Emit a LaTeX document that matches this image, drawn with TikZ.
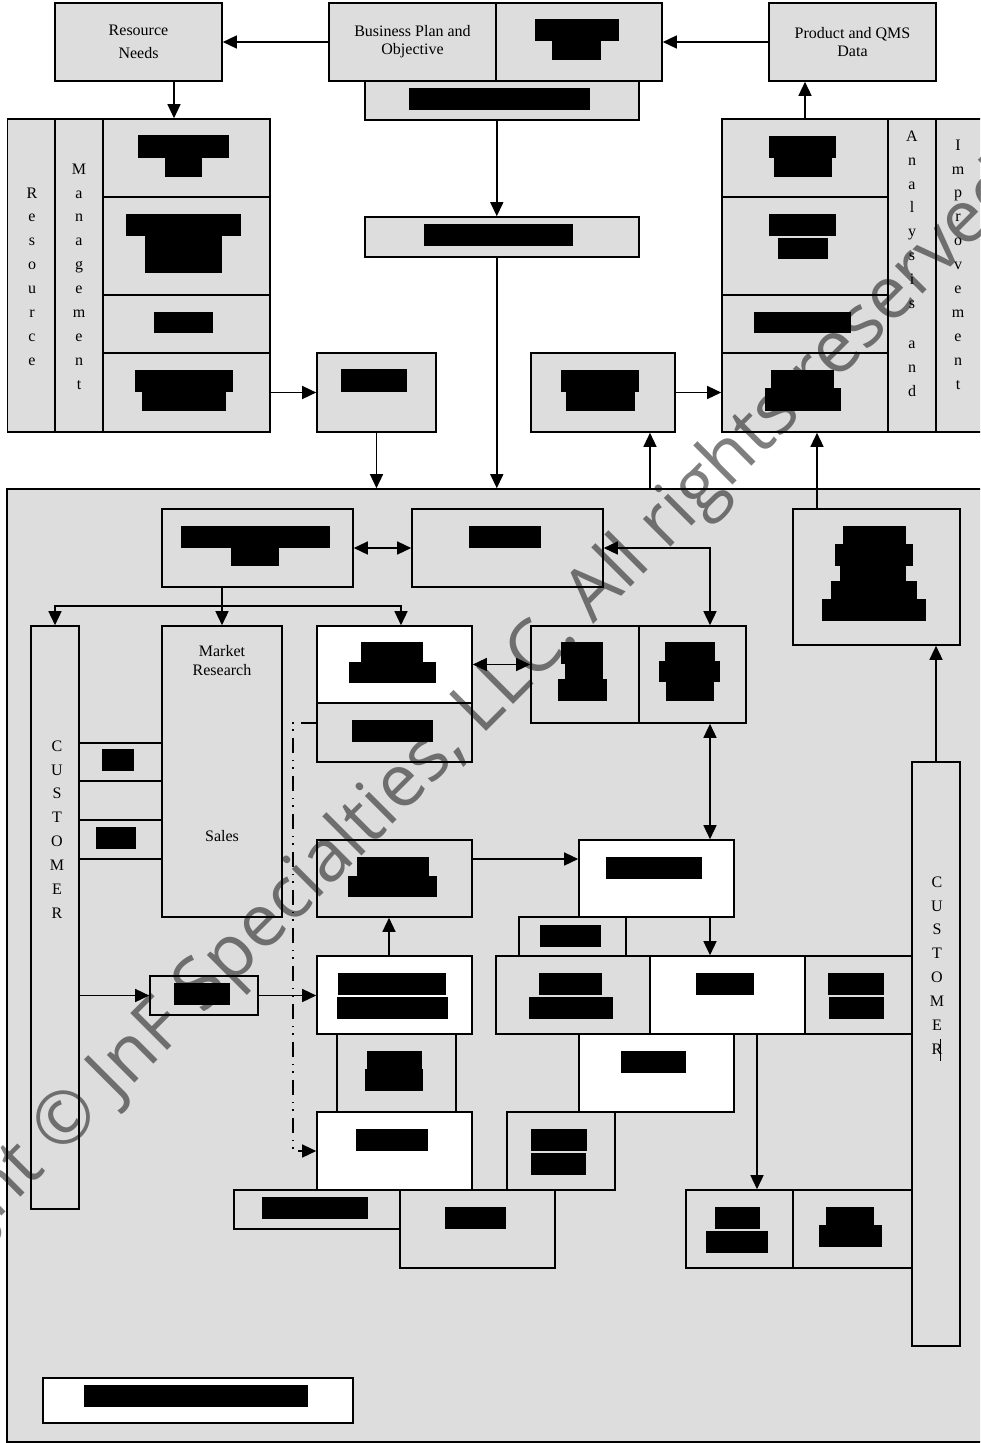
\documentclass[tikz,border=0pt]{standalone}
\usepackage{fontspec}
\setmainfont{Liberation Serif}
\newfontfamily\wmfont{Open Sans}
\usetikzlibrary{arrows.meta}
\usetikzlibrary{positioning}
\definecolor{boxgray}{RGB}{221,221,221}

\begin{document}
\begin{tikzpicture}[
    x=1pt, y=-1pt,
    blk/.style={draw, fill=boxgray, line width=1.6pt, inner sep=0pt, align=center, font=\fontsize{16}{18}\selectfont},
    wblk/.style={blk, fill=white},
    sz/.style 2 args={minimum width=#1pt, minimum height=#2pt},
    lbl/.style={align=center, inner sep=0pt, font=\fontsize{16}{19}\selectfont},
    vtext/.style={align=center, inner sep=0pt, font=\fontsize{16}{23.9}\selectfont},
    redact/.style={fill=black},
    link/.style={line width=1.4pt},
    arr/.style={link, -{Triangle[length=14pt, width=13pt]}},
    dbl/.style={link, {Triangle[length=14pt, width=13pt]}-{Triangle[length=14pt, width=13pt]}},
    dashdot/.style={link, dash pattern=on 15pt off 7pt on 1.5pt off 6pt on 1.5pt off 7pt}
]

\clip (0,0) rectangle (980,1443);

% --- Top row ---
\node[blk, sz={274}{39}] (bizstrip) at (502,100.5) {};
\node[blk, sz={167}{78}] (resneeds) at (138.5,42) {Resource\\[5pt]Needs};
\node[blk, sz={167}{78}] (bizplan) at (412.5,42) {Business Plan and\\Objective};
\node[blk, sz={166}{78}] (bizred) at (579,42) {};
\node[blk, sz={167}{78}] (qmsdata) at (852.5,42) {Product and QMS\\Data};

% --- Resource Management block ---
\node[blk, sz={47.5}{313}] (rescol) at (31.25,275.5) {};
\node[blk, sz={48}{313}] (mgmtcol) at (79,275.5) {};
\foreach \n/\y/\h in {1/158/78, 2/246/98, 3/324/58, 4/392.5/79}
    \node[blk, sz={167}{\h}] (lb\n) at (186.5,\y) {};
\node[vtext] (restxt) at (32,276.5) {R\\e\\s\\o\\u\\r\\c\\e};
\node[vtext] (mgmttxt) at (79,276.5) {M\\a\\n\\a\\g\\e\\m\\e\\n\\t};

% --- Analysis and Improvement block ---
\foreach \n/\y/\h in {1/158/78, 2/246/98, 3/324/58, 4/392.5/79}
    \node[blk, sz={166}{\h}] (rb\n) at (805,\y) {};
\node[blk, sz={48}{313}] (anacol) at (912,275.5) {};
\node[blk, sz={54}{313}] (impcol) at (963,275.5) {};
\node[vtext] (anatxt) at (912,263.5) {A\\n\\a\\l\\y\\s\\i\\s\\[16pt]a\\n\\d};
\node[vtext] (imptxt) at (958,264.5) {I\\m\\p\\r\\o\\v\\e\\m\\e\\n\\t};

% --- Middle boxes ---
\node[blk, sz={119}{79}] (lsmall) at (376.5,392.5) {};
\node[blk, sz={274}{40}] (cbox) at (502,237) {};
\node[blk, sz={144}{79}] (rsmall) at (603,392.5) {};

% --- Product realization frame ---
\node[blk, sz={985}{953}] (outer) at (499.5,965.5) {};

\node[blk, sz={191}{78}] (plan1) at (257.5,548) {};
\node[blk, sz={191}{78}] (plan2) at (507.5,548) {};
\node[blk, sz={167}{136}] (topright) at (876.5,577) {};
\node[blk, sz={48}{583}] (custL) at (55,917.5) {};
\node[blk, sz={120}{291}] (mktsales) at (222,771.5) {};
\node[blk, sz={83}{38}] (tab1) at (120.5,762) {};
\node[blk, sz={83}{39}] (tab2) at (120.5,839.5) {};
\node[wblk, sz={155}{77}] (wtop) at (394.5,664.5) {};
\node[blk, sz={155}{59}] (gtop) at (394.5,732.5) {};
\node[blk, sz={108}{97}] (pair1) at (585,674.5) {};
\node[blk, sz={107}{97}] (pair2) at (692.5,674.5) {};
\node[blk, sz={155}{77}] (gmid) at (394.5,878.5) {};
\node[wblk, sz={155}{77}] (wmid) at (656.5,878.5) {};
\node[blk, sz={107}{40}] (gsmall) at (572.5,937) {};
\node[blk, sz={108}{39}] (inbox) at (204,995.5) {};
\node[wblk, sz={155}{78}] (w1) at (394.5,995) {};
\node[blk, sz={119}{78}] (g1) at (396.5,1073) {};
\node[wblk, sz={155}{78}] (w2) at (394.5,1151) {};
\node[blk, sz={166}{39}] (gb1) at (317,1209.5) {};
\node[blk, sz={155}{78}] (gb2) at (477.5,1229) {};
\node[blk, sz={154}{78}] (rowA) at (573,995) {};
\node[wblk, sz={155}{78}] (rowB) at (727.5,995) {};
\node[blk, sz={107}{78}] (rowC) at (858.5,995) {};
\node[wblk, sz={155}{78}] (wlow) at (656.5,1073) {};
\node[blk, sz={108}{78}] (g2) at (561,1151) {};
\node[blk, sz={107}{78}] (br1) at (739.5,1229) {};
\node[blk, sz={119}{78}] (br2) at (852.5,1229) {};
\node[blk, sz={48}{584}] (custR) at (936,1054) {};
\node[wblk, sz={310}{45}] (legend) at (198,1400.5) {};

\node[lbl] (mkttxt) at (222,660.5) {Market\\Research};
\node[lbl] (salestxt) at (222,836) {Sales};
\node[vtext] (custltxt) at (57,829.5) {C\\U\\S\\T\\O\\M\\E\\R};
\node[vtext] (custrtxt) at (937,965.5) {C\\U\\S\\T\\O\\M\\E\\R};
\draw[line width=0.8pt] (940,1039) -- (940,1061);

% --- Blacked-out labels ---
\foreach \xa/\ya/\xb/\yb in {
    535/19/619/41, 552/41/601/60, 409/88/590/110,
    138/135/229/158, 165/158/202/177, 126/214/241/236, 145/236/222/273,
    154/312/213/333, 135/370/233/392, 142/392/226/411,
    341/369/407/392, 424/224/573/246, 561/370/639/392, 566/392/635/411,
    769/136/836/158, 774/158/832/177, 769/214/836/236, 778/238/828/259,
    754/312/851/333, 771/370/834/390, 765/388/841/411,
    181/526/330/548, 231/548/279/566, 469/526/541/548,
    843/526/906/544, 835/544/913/566, 840/566/906/581, 831/581/917/599, 822/599/926/621,
    561/642/603/664, 565/664/603/679, 558/679/607/701,
    665/642/715/661, 659/661/720/682, 666/682/714/701,
    102/749/134/771, 96/827/136/849,
    361/642/423/662, 349/662/436/683, 352/720/433/742,
    357/857/429/876, 348/876/437/897, 606/857/702/879, 540/925/601/947,
    174/983/230/1005, 338/973/446/995, 337/997/448/1019,
    367/1051/422/1069, 365/1069/423/1091, 356/1129/428/1151,
    262/1197/368/1219, 445/1207/506/1229,
    539/973/602/995, 529/997/613/1019, 696/973/754/995,
    828/973/884/995, 829/997/884/1019, 621/1051/686/1073,
    531/1129/587/1151, 531/1153/586/1175,
    715/1207/760/1229, 706/1231/768/1253, 826/1207/874/1225, 819/1225/882/1247,
    84/1385/308/1407}
    \fill[redact] (\xa,\ya) rectangle (\xb,\yb);

% --- Connectors, top half ---
\draw[arr] (bizplan.west) -- (resneeds.east);
\draw[arr] (qmsdata.west) -- (bizred.east);
\draw[arr] (resneeds.south -| 174,0) -- (lb1.north -| 174,0);
\draw[arr] (bizstrip.south -| bizplan.south east) -- (cbox.north -| bizplan.south east);
\draw[arr] (cbox.south -| bizplan.south east) -- (outer.north -| bizplan.south east);
\draw[arr] (lb4.east) -- (lsmall.west);
\draw[arr] (lsmall.south) -- (lsmall.south |- outer.north);
\draw[arr] (rsmall.east) -- (rb4.west);
\draw[arr] (outer.north -| 650,0) -- (rsmall.south -| 650,0);
\draw[arr] (rb1.north) -- (rb1.north |- qmsdata.south);
\draw[arr] (topright.north -| 817,0) -- (rb4.south -| 817,0);
\draw[arr] (custR.north) -- (custR.north |- topright.south);

% --- Connectors, inside the frame ---
\draw[dbl] (plan1.east) -- (plan2.west);
\coordinate (fork) at (222,606);
\draw[link] (plan1.south -| fork) -- (fork);
\draw[arr] (fork) -- (mktsales.north);
\draw[arr] (fork) -| (custL.north);
\draw[arr] (fork) -| (wtop.north -| 401,0);
\draw[dbl] (plan2.east) -| (pair2.north -| 710,0);
\draw[dbl] (wtop.east) -- (wtop.east -| pair1.west);
\draw[dbl] (pair2.south -| 710,0) -- (wmid.north -| 710,0);
\draw[arr] (gmid.east |- 0,859) -- (wmid.west |- 0,859);
\draw[arr] (w1.north -| 389,0) -- (gmid.south -| 389,0);
\draw[arr] (custL.east |- inbox.west) -- (inbox.west);
\draw[arr] (inbox.east) -- (inbox.east -| w1.west);
\draw[arr] (wmid.south -| 710,0) -- (rowB.north -| 710,0);
\draw[arr] (rowB.south -| 757,0) -- (br1.north -| 757,0);
\draw[dashdot, -{Triangle[length=14pt, width=13pt]}] (gtop.west |- 0,723) -| (293,1151) -- (w2.west |- 0,1151);

% --- Watermark ---
\node[font=\wmfont\fontsize{73}{73}\selectfont, text=black, text opacity=0.5, rotate=45, inner sep=0pt] (wmark) at (407,784) {Copyright © JnF Specialties, LLC. All rights reserved};

\end{tikzpicture}
\end{document}
